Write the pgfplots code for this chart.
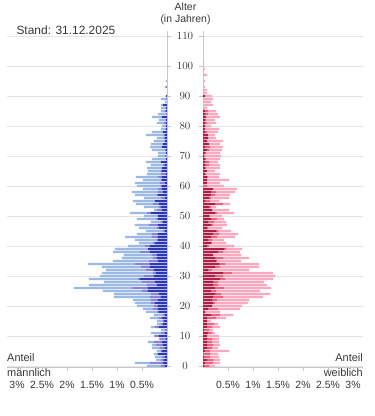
\documentclass[border=0pt]{standalone}
\usepackage{fontspec}
\setmainfont{Liberation Sans}
\usepackage{pgfplots}
\usepackage{pgfplotstable}
\pgfplotsset{compat=1.18}
\definecolor{mD}{RGB}{43,58,180}
\definecolor{mM}{RGB}{138,130,214}
\definecolor{mL}{RGB}{155,185,226}
\definecolor{fD}{RGB}{175,32,72}
\definecolor{fM}{RGB}{240,96,128}
\definecolor{fL}{RGB}{249,168,190}
\definecolor{gridc}{RGB}{228,228,228}
\definecolor{axc}{RGB}{200,200,200}
\definecolor{txt}{RGB}{55,55,55}

\pgfplotstableread{
age d m l
0 0.04 0.08 0.28
1 0.08 0.26 0.30
2 0.06 0.06 0.10
3 0.04 0.06 0.14
4 0.18 0 0.08
5 0.10 0.02 0.08
6 0.04 0.10 0.16
7 0.08 0.14 0.08
8 0.10 0.16 0.12
9 0.02 0.12 0.02
10 0.16 0.08 0.02
11 0.04 0.08 0.20
12 0 0.04 0.08
13 0.16 0.08 0.08
14 0.08 0.04 0.08
15 0.06 0.02 0.12
16 0.10 0.06 0.18
17 0.04 0.04 0.18
18 0.16 0.04 0.22
19 0.18 0.10 0.20
20 0.18 0.08 0.34
21 0.24 0.08 0.32
22 0.18 0.14 0.36
23 0.12 0.22 0.72
24 0.16 0.16 0.74
25 0.38 0.12 0.78
26 0.38 0.32 1.16
27 0.20 0.20 1.16
28 0.24 0.26 0.76
29 0.54 0.04 0.98
30 0.26 0.20 0.88
31 0.22 0.06 1.02
32 0.26 0.16 0.80
33 0.34 0.18 0.78
34 0.34 0.30 0.94
35 0.18 0.18 0.72
36 0.20 0.08 0.62
37 0.20 0.10 0.56
38 0.34 0.20 0.54
39 0.38 0 0.66
40 0.34 0.10 0.34
41 0.24 0.04 0.28
42 0.18 0.02 0.44
43 0.18 0.12 0.54
44 0.18 0.12 0.30
45 0.04 0.04 0.34
46 0.16 0.04 0.36
47 0.18 0.18 0.28
48 0.08 0.04 0.20
49 0.18 0.04 0.38
50 0.18 0 0.28
51 0.32 0.08 0.34
52 0.10 0.10 0.06
53 0.12 0.04 0.30
54 0.16 0.12 0.34
55 0.24 0 0.44
56 0.04 0.08 0.34
57 0.18 0.02 0.44
58 0.08 0.10 0.52
59 0.10 0.08 0.30
60 0.10 0.02 0.48
61 0.04 0.10 0.50
62 0.10 0.02 0.36
63 0.10 0.08 0.44
64 0.02 0.10 0.28
65 0.10 0.02 0.26
66 0.10 0 0.30
67 0.04 0.04 0.24
68 0.12 0 0.30
69 0.02 0 0.28
70 0 0.04 0.14
71 0.02 0 0.16
72 0.02 0.02 0.26
73 0.10 0 0.24
74 0.08 0 0.24
75 0.04 0 0.22
76 0.04 0.02 0.14
77 0.04 0.02 0.36
78 0.08 0 0.22
79 0.02 0 0.10
80 0.02 0 0.08
81 0.02 0.04 0.14
82 0.02 0 0.14
83 0.10 0 0.20
84 0 0.02 0.16
85 0.02 0.02 0.08
86 0.02 0 0.10
87 0.08 0 0.04
88 0 0 0.04
89 0 0.02 0.10
90 0.02 0 0
91 0 0 0
92 0 0 0
93 0 0.02 0.02
94 0 0 0
95 0 0 0.02
}\male

\pgfplotstableread{
age d m l
0 0.02 0.10 0.12
1 0.04 0.16 0.14
2 0.08 0.12 0.14
3 0.02 0.12 0.18
4 0 0.14 0.16
5 0.04 0.10 0.38
6 0.08 0.10 0.12
7 0.08 0.12 0.14
8 0.08 0.10 0.14
9 0.08 0.10 0.14
10 0.08 0 0.24
11 0.10 0.08 0.06
12 0.02 0.10 0.08
13 0.08 0.10 0.16
14 0.08 0.14 0.08
15 0.08 0 0.08
16 0.08 0.18 0.20
17 0.16 0.18 0.26
18 0.04 0 0.30
19 0.10 0.20 0.44
20 0.18 0 0.60
21 0.20 0.04 0.66
22 0.18 0.10 0.64
23 0.20 0.20 0.80
24 0.24 0.12 0.98
25 0.16 0.10 0.88
26 0.24 0.18 0.94
27 0.20 0.10 0.98
28 0.20 0.10 0.92
29 0.34 0.10 0.96
30 0.24 0.16 1.04
31 0.40 0.18 0.82
32 0.10 0.08 0.74
33 0.24 0.10 0.78
34 0.32 0.12 0.68
35 0.26 0.02 0.48
36 0.24 0.16 0.52
37 0.20 0 0.56
38 0.30 0.10 0.34
39 0.42 0.04 0.32
40 0.08 0.04 0.50
41 0.16 0.02 0.28
42 0.10 0.08 0.24
43 0.16 0.12 0.36
44 0.20 0.12 0.38
45 0.26 0.04 0.26
46 0.08 0.02 0.28
47 0.16 0.04 0.28
48 0.10 0.12 0.24
49 0.16 0.12 0.14
50 0.12 0.02 0.24
51 0.24 0.04 0.34
52 0.18 0 0.34
53 0.12 0.04 0.10
54 0.24 0.16 0.14
55 0.04 0.10 0.18
56 0.12 0.04 0.36
57 0.16 0.08 0.30
58 0.16 0.10 0.38
59 0.20 0 0.48
60 0 0.08 0.34
61 0.08 0 0.26
62 0.08 0 0.44
63 0.08 0.02 0.22
64 0.04 0.02 0.28
65 0.08 0 0.16
66 0.04 0.02 0.28
67 0.04 0.08 0.22
68 0.04 0.08 0.18
69 0.04 0.02 0.28
70 0.02 0.02 0.32
71 0.04 0.02 0.28
72 0.08 0.04 0.26
73 0.04 0.10 0.26
74 0.12 0 0.22
75 0.08 0 0.32
76 0.10 0 0.16
77 0.10 0 0.14
78 0.04 0.04 0.22
79 0.04 0 0.28
80 0.04 0 0.12
81 0.04 0.04 0.18
82 0.04 0.02 0.18
83 0.06 0 0.28
84 0.04 0.06 0.20
85 0.04 0.06 0.16
86 0 0 0.08
87 0 0 0.20
88 0 0 0.16
89 0 0 0.20
90 0.04 0 0.14
91 0 0 0.08
92 0 0 0.08
93 0 0 0.04
94 0 0 0.02
95 0 0 0.04
96 0 0 0
97 0 0 0.08
98 0 0 0
99 0 0 0.04
100 0 0 0
101 0 0 0.02
102 0 0 0.02
}\female

\pgfplotsset{pyr/.style={
  xbar stacked, bar width=0.7,
  scale only axis, width=160bp, height=336.3bp,
  xmin=0, xmax=3.2, ymin=-0.3, ymax=111.8,
  xtick={0.5,1,1.5,2,2.5,3},
  xticklabels={0.5\%,1\%,1.5\%,2\%,2.5\%,3\%},
  ytick={0,10,...,110},
  ymajorgrids, grid style={gridc, line width=0.8bp},
  axis line style={axc, line width=0.8bp},
  tick style={axc, line width=0.8bp},
  major tick length=4bp, tick align=outside,
  ticklabel style={font=\fontsize{10.5}{12}\selectfont, text=txt},
  xticklabel style={yshift=-7bp},
  every axis plot/.append style={draw=none},
}}

\begin{document}
\begin{tikzpicture}
\path[use as bounding box] (0,0) rectangle (375bp,416bp);
\begin{axis}[pyr, x dir=reverse, axis x line*=bottom, axis y line*=right,
  at={(7bp,49.1bp)}, anchor=south west,
  yticklabel style={anchor=center, xshift=14bp}]
\addplot[fill=mD, draw=none] table[x=d, y=age] {\male};
\addplot[fill=mM, draw=none] table[x=m, y=age] {\male};
\addplot[fill=mL, draw=none] table[x=l, y=age] {\male};
\end{axis}
\begin{axis}[pyr, axis x line*=bottom, axis y line*=left, yticklabels={},
  at={(203bp,49.1bp)}, anchor=south west]
\addplot[fill=fD, draw=none] table[x=d, y=age] {\female};
\addplot[fill=fM, draw=none] table[x=m, y=age] {\female};
\addplot[fill=fL, draw=none] table[x=l, y=age] {\female};
\end{axis}
\node[anchor=west, text=txt, font=\fontsize{12}{14}\selectfont] at (13bp,386bp) {Stand: 31.12.2025};
\node[text=txt, font=\fontsize{10.5}{12}\selectfont] at (185.5bp,409.5bp) {Alter};
\node[text=txt, font=\fontsize{10.5}{12}\selectfont] at (185.5bp,396.5bp) {(in Jahren)};
\node[anchor=west, text=txt, font=\fontsize{11}{13}\selectfont, inner sep=0pt] at (7bp,58.3bp) {Anteil};
\node[anchor=west, text=txt, font=\fontsize{11}{13}\selectfont, inner sep=0pt] at (7bp,43.7bp) {männlich};
\node[anchor=east, text=txt, font=\fontsize{11}{13}\selectfont, inner sep=0pt] at (363bp,58.3bp) {Anteil};
\node[anchor=east, text=txt, font=\fontsize{11}{13}\selectfont, inner sep=0pt] at (363bp,43.7bp) {weiblich};
\end{tikzpicture}
\end{document}
